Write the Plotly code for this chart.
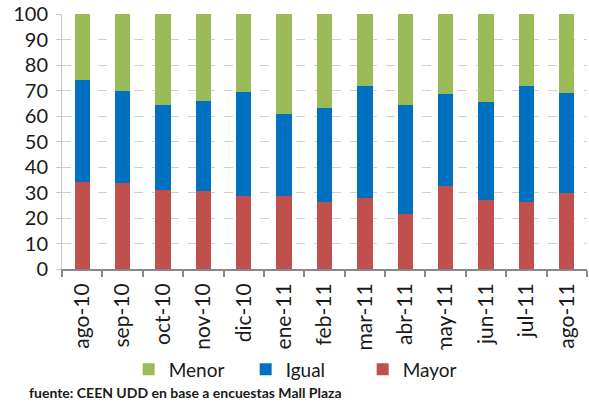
import plotly.graph_objects as go

categories = ["ago-10", "sep-10", "oct-10", "nov-10", "dic-10", "ene-11", "feb-11",
              "mar-11", "abr-11", "may-11", "jun-11", "jul-11", "ago-11"]
mayor = [34.2, 33.7, 31.0, 30.6, 28.7, 28.7, 26.4, 28.0, 21.7, 32.7, 27.2, 26.4, 29.9]
igual = [39.9, 36.1, 33.3, 35.3, 40.7, 32.1, 36.9, 43.8, 42.6, 35.9, 38.3, 45.4, 39.1]
menor = [25.9, 30.2, 35.7, 34.1, 30.6, 39.2, 36.7, 28.2, 35.7, 31.4, 34.5, 28.2, 31.0]
y_ticks = [0, 10, 20, 30, 40, 50, 60, 70, 80, 90, 100]

font_family = "Lato, 'Open Sans', sans-serif"

fig = go.Figure()
fig.add_trace(go.Bar(x=categories, y=mayor, name="Mayor", marker=dict(color="#C0504D", line_width=0)))
fig.add_trace(go.Bar(x=categories, y=igual, name="Igual", marker=dict(color="#0070C0", line_width=0)))
fig.add_trace(go.Bar(x=categories, y=menor, name="Menor", marker=dict(color="#9BBB59", line_width=0)))

fig.update_layout(
    barmode="stack",
    bargap=0.62,
    width=589, height=407,
    margin=dict(l=62, r=2, t=14, b=138, autoexpand=False),
    paper_bgcolor="white", plot_bgcolor="white",
    font=dict(family=font_family, color="#1a1a1a"),
    showlegend=True,
    legend=dict(orientation="h", traceorder="reversed", x=0.127, xanchor="left",
                y=-0.319, yanchor="top", font=dict(size=19, color="#1a1a1a"),
                itemwidth=30, entrywidth=72, entrywidthmode="pixels"),
    xaxis=dict(
        tickangle=-90, tickfont=dict(size=21, color="#1a1a1a"),
        showline=True, linecolor="#888888", linewidth=2,
        ticks="outside", ticklen=6, tickcolor="#888888", tickwidth=2,
        tickson="boundaries", showgrid=False, ticklabelstandoff=4,
    ),
    yaxis=dict(
        range=[0, 100], tickvals=y_ticks, tickfont=dict(size=20, color="#1a1a1a"),
        showgrid=True, gridcolor="#d0d0d0", griddash="dash", gridwidth=1,
        showline=True, linecolor="#c8c8c8", linewidth=1,
        ticks="outside", ticklen=5, tickcolor="#c8c8c8", zeroline=False,
        ticklabelstandoff=4, ticklabeloverflow="allow",
    ),
    annotations=[dict(text="<b>fuente: CEEN UDD en base a encuestas Mall Plaza</b>",
                      xref="paper", yref="paper", x=-0.067, y=-0.442,
                      xanchor="left", yanchor="top", showarrow=False,
                      font=dict(size=14, color="#1a1a1a", family=font_family))],
)

fig.write_html("out.html", config={"displayModeBar": False},
               post_script="document.body.style.margin='0px';document.body.style.overflow='hidden';")
